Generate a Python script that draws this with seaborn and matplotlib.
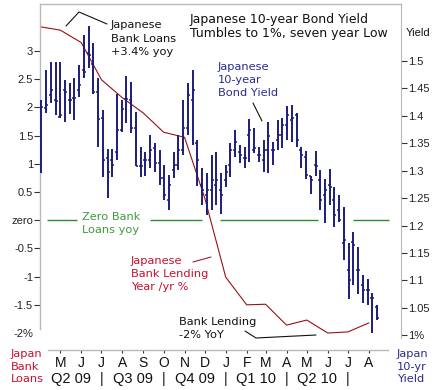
import numpy as np
import pandas as pd
import matplotlib
matplotlib.use("Agg")
import matplotlib.pyplot as plt
import matplotlib.dates as mdates
import seaborn as sns
from matplotlib.lines import Line2D

sns.set_style("white")
plt.rcParams['font.family'] = ['DejaVu Sans']

# ---------------- data ----------------
loan_months = ["2009-04-01", "2009-05-01", "2009-06-01", "2009-07-01", "2009-08-01",
               "2009-09-01", "2009-10-01", "2009-11-01", "2009-12-01", "2010-01-01",
               "2010-02-01", "2010-03-01", "2010-04-01", "2010-05-01", "2010-06-01",
               "2010-07-01", "2010-08-01"]
loan_yoy = [3.43, 3.37, 3.15, 2.49, 2.17, 1.90, 1.56, 1.47, 0.39, -1.01,
            -1.50, -1.49, -1.86, -1.77, -2.00, -1.98, -1.82]

first_week = "2009-04-03"
yield_high = [1.429, 1.484, 1.498, 1.498, 1.498, 1.465, 1.460, 1.469, 1.493, 1.547,
              1.564, 1.533, 1.469, 1.411, 1.339, 1.339, 1.440, 1.429, 1.473, 1.462,
              1.407, 1.343, 1.334, 1.365, 1.350, 1.338, 1.310, 1.292, 1.334, 1.365,
              1.429, 1.460, 1.484, 1.356, 1.305, 1.296, 1.328, 1.334, 1.296, 1.310,
              1.350, 1.374, 1.347, 1.343, 1.394, 1.378, 1.343, 1.356, 1.389, 1.352,
              1.392, 1.396, 1.418, 1.420, 1.405, 1.343, 1.336, 1.290, 1.336, 1.301,
              1.285, 1.303, 1.270, 1.255, 1.234, 1.168, 1.188, 1.161, 1.109, 1.102,
              1.077, 1.055]
yield_low = [1.296, 1.405, 1.423, 1.401, 1.396, 1.389, 1.403, 1.392, 1.434, 1.469,
             1.487, 1.440, 1.343, 1.288, 1.250, 1.288, 1.319, 1.370, 1.387, 1.369,
             1.308, 1.288, 1.290, 1.305, 1.297, 1.274, 1.246, 1.228, 1.286, 1.301,
             1.328, 1.365, 1.347, 1.272, 1.237, 1.219, 1.228, 1.237, 1.221, 1.270,
             1.288, 1.325, 1.314, 1.305, 1.316, 1.332, 1.316, 1.297, 1.296, 1.310,
             1.338, 1.341, 1.356, 1.352, 1.343, 1.305, 1.285, 1.257, 1.290, 1.228,
             1.204, 1.237, 1.197, 1.206, 1.137, 1.066, 1.091, 1.075, 1.058, 1.055,
             1.004, 1.027]
yield_open = [1.341, 1.414, 1.438, 1.429, 1.398, 1.447, 1.429, 1.432, 1.447, 1.484,
              1.515, 1.495, 1.443, 1.396, 1.323, 1.319, 1.334, 1.374, 1.431, 1.429,
              1.378, 1.308, 1.319, 1.319, 1.341, 1.314, 1.286, 1.246, 1.301, 1.310,
              1.338, 1.378, 1.429, 1.350, 1.274, 1.255, 1.265, 1.274, 1.265, 1.283,
              1.310, 1.338, 1.334, 1.323, 1.365, 1.338, 1.328, 1.319, 1.338, 1.338,
              1.356, 1.365, 1.383, 1.392, 1.401, 1.338, 1.325, 1.290, 1.310, 1.283,
              1.255, 1.274, 1.246, 1.228, 1.168, 1.119, 1.170, 1.119, 1.091, 1.082,
              1.068, 1.051]
yield_close = [1.416, 1.420, 1.447, 1.427, 1.401, 1.443, 1.429, 1.432, 1.456, 1.480,
               1.511, 1.443, 1.394, 1.319, 1.297, 1.310, 1.374, 1.412, 1.431, 1.378,
               1.308, 1.308, 1.319, 1.338, 1.314, 1.286, 1.255, 1.274, 1.310, 1.338,
               1.378, 1.438, 1.447, 1.319, 1.265, 1.265, 1.283, 1.283, 1.255, 1.297,
               1.338, 1.352, 1.328, 1.323, 1.374, 1.341, 1.328, 1.338, 1.363, 1.338,
               1.365, 1.383, 1.401, 1.396, 1.356, 1.328, 1.292, 1.283, 1.308, 1.246,
               1.265, 1.270, 1.219, 1.210, 1.173, 1.100, 1.164, 1.119, 1.082, 1.082,
               1.068, 1.031]

left_ticks = [-2, -1.5, -1, -0.5, 0, 0.5, 1, 1.5, 2, 2.5, 3]
left_labels = ["-2%", "-1.5", "-1", "-0.5", "zero", "0.5", "1", "1.5", "2", "2.5", "3"]
right_ticks = [1.0, 1.05, 1.1, 1.15, 1.2, 1.25, 1.3, 1.35, 1.4, 1.45, 1.5]
right_labels = ["1%", "1.05", "1.1", "1.15", "1.2", "1.25", "1.3", "1.35", "1.4", "1.45", "1.5"]
month_ticks = ["2009-05-01", "2009-06-01", "2009-07-01", "2009-08-01", "2009-09-01",
               "2009-10-01", "2009-11-01", "2009-12-01", "2010-01-01", "2010-02-01",
               "2010-03-01", "2010-04-01", "2010-05-01", "2010-06-01", "2010-07-01",
               "2010-08-01"]
month_labels = ["M", "J", "J", "A", "S", "O", "N", "D", "J", "F", "M", "A", "M", "J", "J", "A"]
quarter_labels = ["Q2 09", "Q3 09", "Q4 09", "Q1 10", "Q2 10"]
quarter_bounds = ["2009-04-01", "2009-07-01", "2009-10-01", "2010-01-01", "2010-04-01", "2010-07-01"]

# ---------------- colours ----------------
NAVY = "#1c1c7c"
DARKRED = "#9b1010"
GREEN = "#2a8f2a"
GREEN_TXT = "#3f9a3f"
RED_TXT = "#c8102e"
BLUE_TXT = "#2b2b90"
FRAME = "#b8b8b8"

W, H = 439, 390
fig = plt.figure(figsize=(W / 100, H / 100), dpi=100)
fig.patch.set_facecolor("white")


def fx(x):
    return x / W


def fy(y):
    return 1 - y / H


ax = fig.add_axes([fx(40), fy(350), (401 - 40) / W, (350 - 4) / H])
ax.set_facecolor("white")

loans = pd.DataFrame({"date": pd.to_datetime(loan_months), "yoy": loan_yoy})
sns.lineplot(data=loans, x="date", y="yoy", ax=ax, color=DARKRED, lw=0.8, zorder=2)

xmin = pd.Timestamp("2009-04-01")
xmax = pd.Timestamp("2010-09-17 12:00")
ax.set_xlim(xmin, xmax)
ax.set_ylim(-2.301, 3.833)
ax.set_xlabel("")
ax.set_ylabel("")

# zero line segments (broken where other marks cross)
zero_segs = [("2009-04-12", "2009-05-26"), ("2009-09-11", "2009-11-27"),
             ("2009-12-24", "2010-05-18"), ("2010-07-08", "2010-08-31")]
for a, b in zero_segs:
    ax.hlines(0, pd.Timestamp(a), pd.Timestamp(b), color=GREEN, lw=1.0, zorder=1)

# OHLC bars on right axis
ax2 = ax.twinx()
wk = pd.date_range(first_week, periods=len(yield_high), freq="7D")
xd = mdates.date2num(wk)
ax2.vlines(xd, yield_low, yield_high, color=NAVY, lw=1.4, zorder=3)
tick_w = 3.0
ax2.hlines(yield_open, xd - tick_w, xd, color=NAVY, lw=1.1, zorder=3)
ax2.hlines(yield_close, xd, xd + tick_w, color=NAVY, lw=1.1, zorder=3)
ax2.set_ylim(0.973, 1.604)
ax2.set_xlim(xmin, xmax)

# spines
for s in ["top", "bottom", "left", "right"]:
    ax.spines[s].set_color(FRAME)
    ax.spines[s].set_linewidth(1.0)
    ax2.spines[s].set_visible(False)
ax.spines["right"].set_visible(False)
ax2.spines["right"].set_visible(True)
ax2.spines["right"].set_color(FRAME)
ax2.spines["right"].set_bounds(0.9945, 1.604)
ax.spines["left"].set_bounds(-1.93, 3.833)
ax.spines["bottom"].set_bounds(mdates.date2num(pd.Timestamp("2009-04-13")),
                               mdates.date2num(pd.Timestamp("2010-08-29")))

# left ticks
ax.set_yticks(left_ticks)
ax.set_yticklabels(left_labels, fontsize=8, family="Liberation Sans", color="#222222")
ax.tick_params(axis="y", which="both", left=True, length=4, width=0.8, color="#333333",
               direction="out", pad=1)
ax.yaxis.get_major_ticks()[0].tick1line.set_visible(False)

# right ticks
ax2.set_yticks(right_ticks)
ax2.set_yticklabels(right_labels, fontsize=8, family="Liberation Sans", color="#222222")
ax2.tick_params(axis="y", right=True, length=4, width=0.8, color="#333333",
                direction="out", pad=1)

# bottom month ticks
ax.set_xticks(pd.to_datetime(month_ticks))
ax.set_xticklabels(month_labels, fontsize=10, family="Liberation Sans", color="#111111")
ax.tick_params(axis="x", bottom=True, length=2, width=0.8, color="#333333",
               direction="out", pad=2)

# quarter labels
trans = ax.get_xaxis_transform()
qb = pd.to_datetime(quarter_bounds)
for i, lab in enumerate(quarter_labels):
    mid = qb[i] + (qb[i + 1] - qb[i]) / 2
    ax.text(mid, (350 - 379) / 346, lab, transform=trans, ha="center", va="center",
            fontsize=10.5, family="Liberation Sans", color="#111111")
for d in qb[1:]:
    ax.text(d, (350 - 379) / 346, "|", transform=trans, ha="center", va="center",
            fontsize=10.5, family="Liberation Sans", color="#111111")


# ---------------- annotations ----------------
def lines_at(x, ys, texts, size, color, family="DejaVu Sans"):
    for y, t in zip(ys, texts):
        fig.text(fx(x), fy(y + 0.36 * size / 0.72), t, ha="left", va="baseline",
                 fontsize=size, color=color, family=family)


lines_at(190, [18, 33], ["Japanese 10-year Bond Yield", "Tumbles to 1%, seven year Low"],
         9.0, "#111111")
lines_at(111, [24, 37.5, 51], ["Japanese", "Bank Loans", "+3.4% yoy"], 8.2, "#111111")
lines_at(218, [66, 79, 92], ["Japanese", "10-year", "Bond Yield"], 8.2, BLUE_TXT)
lines_at(82, [216, 229], ["Zero Bank", "Loans yoy"], 8.2, GREEN_TXT)
lines_at(131, [260, 273, 286], ["Japanese", "Bank Lending", "Year /yr %"], 8.2, RED_TXT)
lines_at(179, [321, 334], ["Bank Lending", "-2% YoY"], 8.2, "#111111")
lines_at(11, [353, 365.5, 378], ["Japan", "Bank", "Loans"], 8.2, RED_TXT)
lines_at(397, [353, 365.5, 378], ["Japan", "10-yr", "Yield"], 8.2, BLUE_TXT)
lines_at(406, [32], ["Yield"], 8, "#111111", family="Liberation Sans")


def pline(pts, color="#111111", lw=0.8):
    xs = [fx(p[0]) for p in pts]
    ys = [fy(p[1]) for p in pts]
    fig.add_artist(Line2D(xs, ys, color=color, lw=lw, transform=fig.transFigure))


pline([(66, 26), (79, 12), (107, 24)])
pline([(253, 103), (262, 121)])
pline([(193, 262), (211, 257)], color="#a0202a")
pline([(245, 331), (256, 338), (316, 335)])

fig.savefig("out.png", dpi=100, facecolor="white")
